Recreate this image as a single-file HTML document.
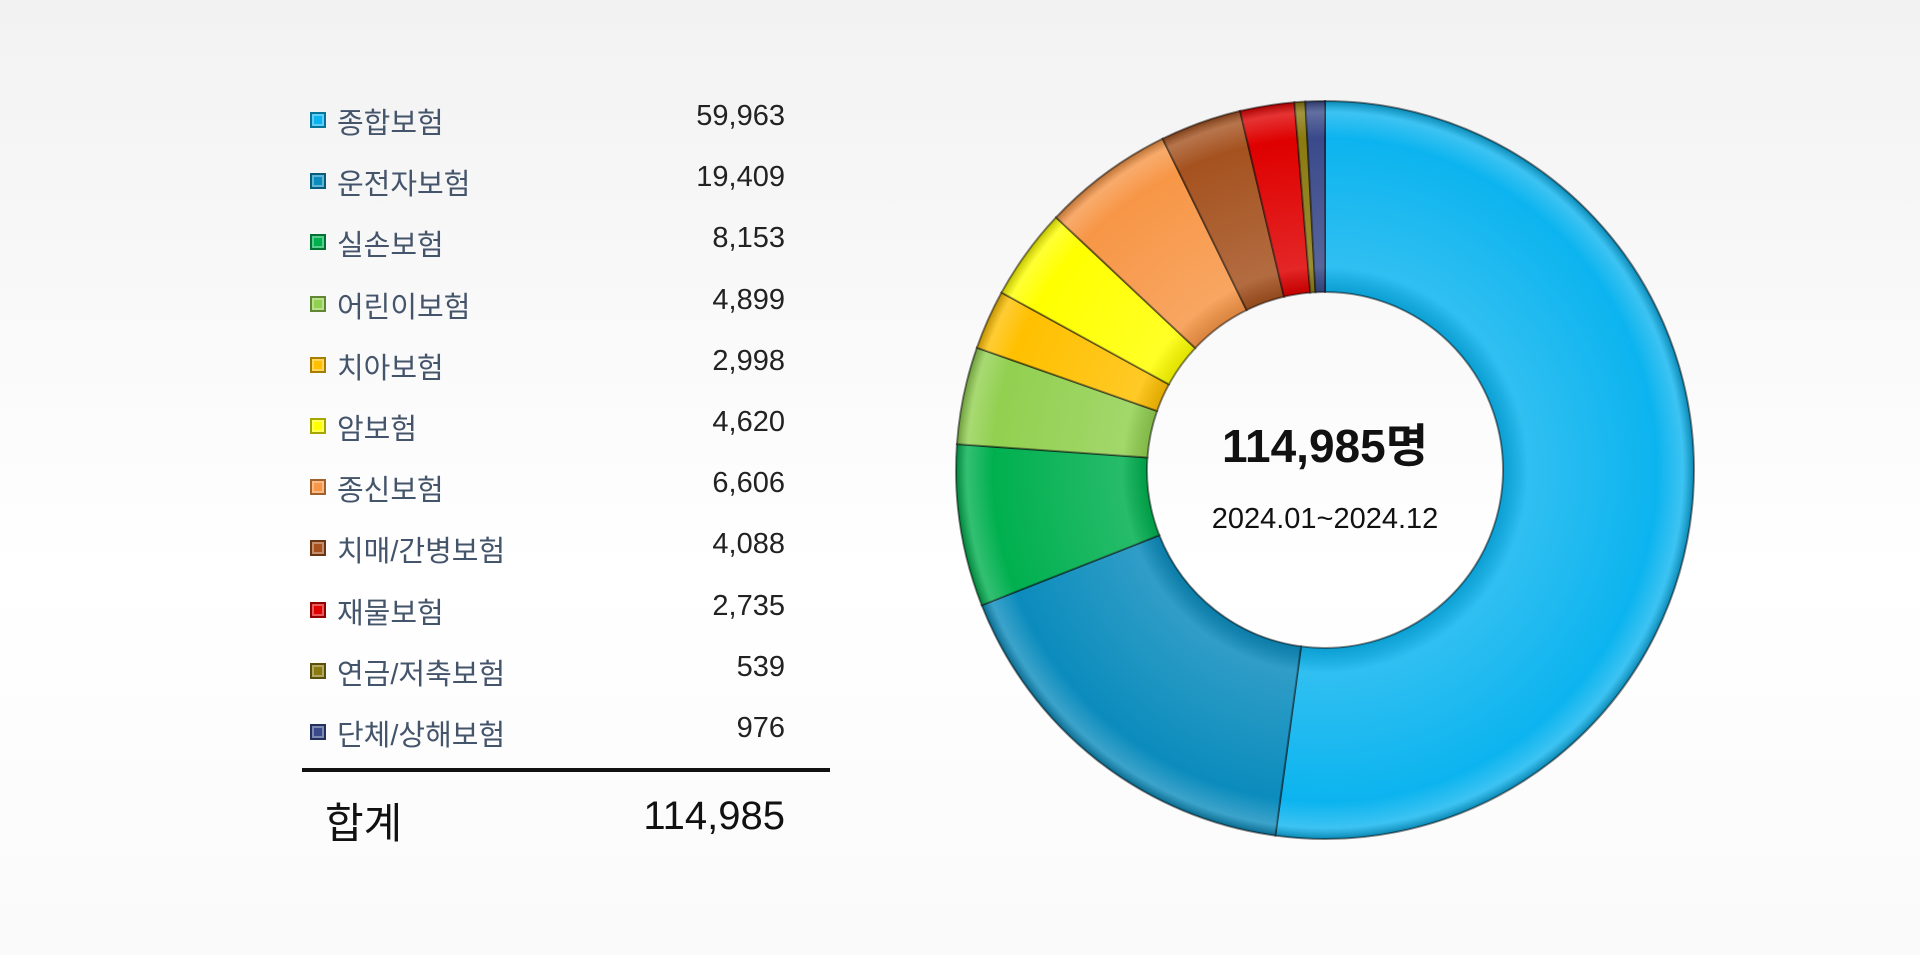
<!DOCTYPE html>
<html><head><meta charset="utf-8">
<style>
html,body{margin:0;padding:0;}
body{width:1920px;height:955px;overflow:hidden;background:linear-gradient(#f2f2f2,#ffffff 60%,#fafafa);font-family:"Liberation Sans","Noto Sans CJK KR",sans-serif;position:relative;}
.row{position:absolute;left:310px;width:475px;height:40px;font-size:29px;color:#44546a;}
.sq{position:absolute;left:0;top:12px;width:16px;height:16px;box-sizing:border-box;border:2px solid rgba(0,0,0,.35);box-shadow:inset 0 0 0 2px rgba(255,255,255,.35);}
.lab{position:absolute;left:27px;top:0;white-space:nowrap;}
.val{position:absolute;right:0;top:0;color:#222;}
</style></head><body>
<div id="legend"></div>
<div style="position:absolute;left:302px;top:768px;width:528px;height:4px;background:#111"></div>
<div style="position:absolute;left:325px;top:790px;font-size:42px;color:#111">합계</div>
<div style="position:absolute;right:1135px;top:794px;font-size:40px;color:#111">114,985</div>
<svg id="chart" width="1920" height="955" style="position:absolute;left:0;top:0">
<defs>
<radialGradient id="shade" cx="1325" cy="470" r="369" gradientUnits="userSpaceOnUse">
<stop offset="0.48" stop-color="#000" stop-opacity="0.12"/>
<stop offset="0.55" stop-color="#fff" stop-opacity="0.15"/>
<stop offset="0.9" stop-color="#fff" stop-opacity="0"/>
<stop offset="0.97" stop-color="#fff" stop-opacity="0.2"/>
<stop offset="1" stop-color="#000" stop-opacity="0.25"/>
</radialGradient>
</defs>
<g id="slices"></g>
<text x="1325" y="462" text-anchor="middle" font-size="46" font-weight="bold" fill="#111" font-family="Liberation Sans, Noto Sans CJK KR, sans-serif">114,985명</text>
<text x="1325" y="528" text-anchor="middle" font-size="29" fill="#111" font-family="Liberation Sans, Noto Sans CJK KR, sans-serif">2024.01~2024.12</text>
</svg>
<script>
const categories=["종합보험","운전자보험","실손보험","어린이보험","치아보험","암보험","종신보험","치매/간병보험","재물보험","연금/저축보험","단체/상해보험"];
const values=[59963,19409,8153,4899,2998,4620,6606,4088,2735,539,976];
const labels=["59,963","19,409","8,153","4,899","2,998","4,620","6,606","4,088","2,735","539","976"];
const colors=["#0cb4ef","#0b8cbd","#00b04f","#92d050","#ffc000","#ffff00","#f79646","#a5521f","#df0000","#8a7a10","#3a4a8a"];
const legend=document.getElementById('legend');
categories.forEach((c,i)=>{
  const r=document.createElement('div');r.className='row';r.style.top=(100+i*61.2)+'px';
  
  
  r.innerHTML='<div class="sq" style="background:'+colors[i]+'"></div><span class="lab">'+c+'</span><span class="val">'+labels[i]+'</span>';
  legend.appendChild(r);
});
const cx=1325,cy=470,R=369,r0=178;
const total=values.reduce((a,b)=>a+b,0);
const g=document.getElementById('slices');
const NS="http://www.w3.org/2000/svg";
function pt(rad,a){return [cx+rad*Math.sin(a),cy-rad*Math.cos(a)];}
let a0=0;
values.forEach((v,i)=>{
  const a1=a0+v/total*2*Math.PI;
  const large=(a1-a0)>Math.PI?1:0;
  const p1=pt(R,a0),p2=pt(R,a1),p3=pt(r0,a1),p4=pt(r0,a0);
  const d=`M${p1[0]},${p1[1]}A${R},${R} 0 ${large} 1 ${p2[0]},${p2[1]}L${p3[0]},${p3[1]}A${r0},${r0} 0 ${large} 0 ${p4[0]},${p4[1]}Z`;
  const p=document.createElementNS(NS,'path');
  p.setAttribute('d',d);p.setAttribute('fill',colors[i]);
  p.setAttribute('stroke','rgba(0,0,0,0.45)');p.setAttribute('stroke-width','2');
  
  
  g.appendChild(p);
  const s=document.createElementNS(NS,'path');
  s.setAttribute('d',d);s.setAttribute('fill','url(#shade)');
  
  
  g.appendChild(s);
  a0=a1;
});
</script>
</body></html>
